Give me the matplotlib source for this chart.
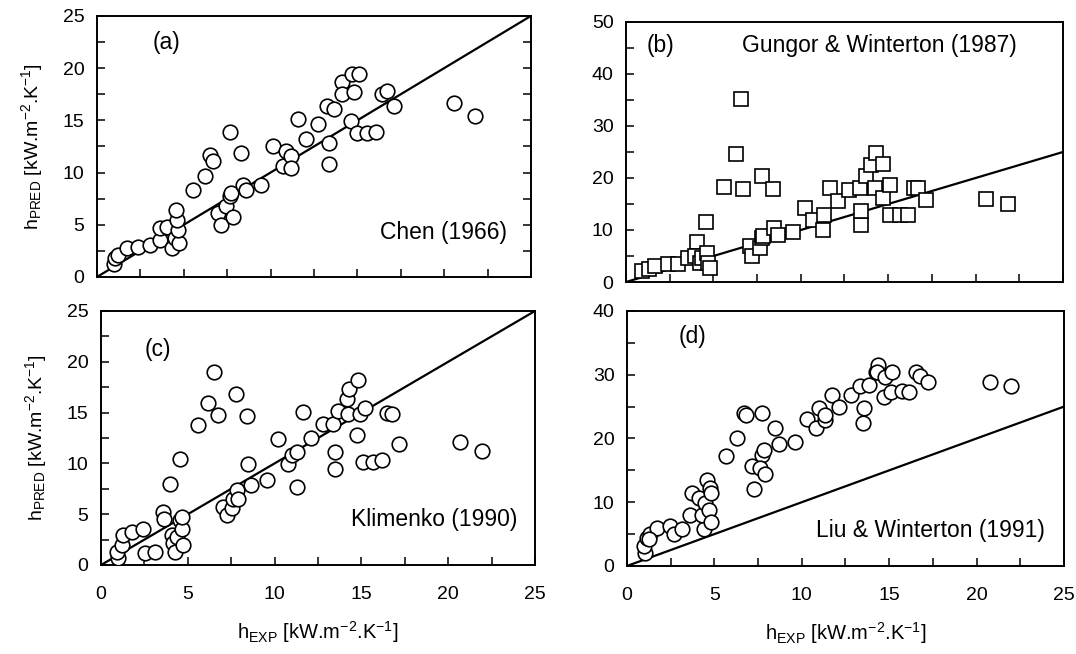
import matplotlib
matplotlib.use("Agg")
import matplotlib.pyplot as plt
from matplotlib.ticker import MultipleLocator, NullFormatter

plt.rcParams['font.family'] = ['Liberation Sans', 'DejaVu Sans']
plt.rcParams['mathtext.default'] = 'regular'

# (a) Chen (1966)
chen_exp = [0.96, 1.05, 1.24, 1.72, 2.39, 3.06, 3.63, 3.63, 4.01, 4.30, 4.49, 4.74, 4.68, 4.59,
            4.55, 5.54, 6.21, 6.50, 6.69, 7.65, 8.31, 6.98, 7.17, 7.45, 7.65, 7.74, 7.84, 8.41,
            8.60, 9.46, 10.13, 10.70, 10.89, 11.18, 11.18, 11.56, 12.04, 12.71, 13.28, 13.38,
            13.38, 13.67, 14.14, 14.14, 14.71, 15.10, 14.81, 14.62, 15.00, 15.58, 16.06, 16.44,
            16.72, 17.11, 20.59, 21.79]
chen_pred = [1.29, 1.77, 2.09, 2.73, 2.89, 3.05, 3.53, 4.66, 4.82, 2.73, 3.70, 3.21, 4.50, 5.46,
             6.43, 8.35, 9.64, 11.73, 11.09, 13.88, 11.89, 6.11, 4.98, 6.75, 7.71, 8.03, 5.78,
             8.84, 8.35, 8.84, 12.53, 10.60, 12.05, 11.57, 10.44, 15.10, 13.17, 14.62, 16.39,
             12.85, 10.83, 16.07, 18.64, 17.51, 19.44, 19.44, 17.67, 14.94, 13.82, 13.82, 13.88,
             17.51, 17.83, 16.39, 16.65, 15.42]

# (b) Gungor & Winterton (1987)
gw_exp = [0.91, 1.29, 1.67, 2.43, 3.00, 3.57, 4.05, 3.95, 4.24, 4.33, 4.62, 4.71, 4.81, 4.58,
          5.61, 6.29, 6.56, 6.71, 7.09, 7.19, 7.66, 7.76, 7.85, 7.76, 8.42, 8.46, 8.71, 9.56,
          10.23, 10.70, 11.27, 11.31, 11.65, 12.13, 12.76, 13.37, 13.46, 13.46, 13.75, 14.03,
          14.28, 14.22, 14.73, 14.70, 15.08, 15.08, 15.65, 16.12, 16.50, 16.69, 17.17, 20.59,
          21.83]
gw_pred = [2.1, 2.43, 3.07, 3.38, 3.38, 4.66, 7.66, 4.98, 3.70, 4.66, 5.62, 3.70, 2.75, 11.56,
           18.2, 24.65, 35.19, 17.88, 6.90, 4.98, 6.58, 8.49, 8.81, 20.31, 17.88, 10.41, 9.13,
           9.58, 14.24, 12.0, 10.09, 12.96, 18.07, 15.52, 17.62, 18.07, 11.05, 13.60, 20.31,
           22.54, 24.78, 18.07, 22.67, 16.16, 18.71, 12.96, 12.96, 12.96, 18.07, 18.07, 15.84,
           15.96, 15.07]

# (c) Klimenko (1990)
kl_exp = [1.0, 0.90, 1.19, 1.29, 1.77, 2.44, 2.53, 3.11, 3.59, 3.63, 3.97, 4.07, 4.17, 4.26,
          4.36, 4.55, 4.55, 4.65, 4.74, 4.65, 5.61, 6.18, 6.51, 6.76, 7.05, 7.24, 7.53, 7.62,
          7.81, 7.91, 7.76, 8.43, 8.49, 8.64, 9.54, 10.21, 10.79, 10.98, 11.31, 11.27, 11.65,
          12.08, 12.77, 13.38, 13.48, 13.48, 13.67, 14.15, 14.31, 14.25, 14.73, 14.82, 14.92,
          15.21, 15.11, 15.69, 16.17, 16.46, 16.74, 17.18, 20.68, 21.93]
kl_pred = [0.65, 1.31, 1.96, 2.94, 3.27, 3.53, 1.14, 1.31, 5.23, 4.51, 8.01, 2.94, 2.12, 1.31,
           2.78, 10.46, 4.41, 3.59, 1.96, 4.74, 13.79, 15.95, 19.02, 14.77, 5.72, 4.90, 5.56,
           6.54, 7.35, 6.54, 16.83, 14.64, 9.97, 7.84, 8.33, 12.42, 9.97, 10.78, 11.11, 7.68,
           15.10, 12.48, 13.89, 13.89, 11.11, 9.41, 15.20, 16.34, 17.32, 14.87, 12.75, 18.20,
           14.87, 15.42, 10.13, 10.13, 10.29, 14.97, 14.87, 11.93, 12.09, 11.18]

# (d) Liu & Winterton (1991)
lw_exp = [1.05, 0.95, 1.15, 1.34, 1.72, 1.24, 2.48, 2.67, 3.15, 3.63, 3.72, 4.10, 4.39, 4.29,
          4.48, 4.68, 4.58, 4.73, 4.81, 4.81, 5.67, 6.30, 6.68, 6.81, 7.16, 7.25, 7.73, 7.63,
          7.73, 7.92, 7.82, 8.49, 8.68, 9.64, 10.31, 10.84, 10.97, 11.35, 11.35, 11.74, 12.12,
          12.82, 13.36, 13.55, 13.49, 13.84, 14.22, 14.37, 14.31, 14.73, 14.79, 15.08, 15.17,
          15.74, 16.13, 16.51, 16.79, 17.23, 20.76, 21.95]
lw_pred = [2.08, 3.13, 4.43, 4.95, 5.99, 4.17, 6.25, 4.95, 5.83, 7.92, 11.46, 10.68, 5.73, 8.07,
           9.90, 8.85, 13.54, 12.24, 11.46, 6.88, 17.19, 20.05, 24.06, 23.70, 15.63, 12.08,
           17.45, 15.36, 24.06, 14.48, 18.23, 21.61, 19.11, 19.38, 23.07, 21.72, 24.74, 22.92,
           23.70, 26.82, 24.90, 26.82, 28.23, 24.74, 22.50, 28.39, 30.47, 31.51, 30.47, 26.46,
           29.69, 27.34, 30.47, 27.45, 27.34, 30.47, 29.79, 28.91, 28.91, 28.23]

fig = plt.figure(figsize=(10.76, 6.54), dpi=100)
ax_a = fig.add_axes([0.0901, 0.5765, 0.4033, 0.3991])
ax_b = fig.add_axes([0.5818, 0.5688, 0.4061, 0.3976])
ax_c = fig.add_axes([0.0939, 0.1361, 0.4033, 0.3884])
ax_d = fig.add_axes([0.5827, 0.1346, 0.4061, 0.3899])

panels = [
    (ax_a, chen_exp, chen_pred, 'o', 25, 2.5, 5, '(a)', (0.16, 0.90), 'Chen (1966)', (0.945, 0.17), 'right'),
    (ax_b, gw_exp, gw_pred, 's', 50, 5, 10, '(b)', (0.08, 0.91), 'Gungor & Winterton (1987)', (0.58, 0.91), 'center'),
    (ax_c, kl_exp, kl_pred, 'o', 25, 2.5, 5, '(c)', (0.13, 0.85), 'Klimenko (1990)', (0.96, 0.18), 'right'),
    (ax_d, lw_exp, lw_pred, 'o', 40, 5, 10, '(d)', (0.15, 0.90), 'Liu & Winterton (1991)', (0.956, 0.14), 'right'),
]

for ax, x, y, mk, ymax, yminor, ymajor, tag, tag_xy, name, name_xy, ha in panels:
    ax.plot([0, 25], [0, 25], color='black', lw=1.6, zorder=2)
    ms = 10.5 if mk == 'o' else 9.5
    ax.plot(x, y, ls='none', marker=mk, ms=ms, mfc='white', mec='black', mew=1.2, zorder=3)
    ax.set_xlim(0, 25)
    ax.set_ylim(0, ymax)
    ax.xaxis.set_major_locator(MultipleLocator(5))
    ax.xaxis.set_minor_locator(MultipleLocator(2.5))
    ax.yaxis.set_major_locator(MultipleLocator(ymajor))
    ax.yaxis.set_minor_locator(MultipleLocator(yminor))
    ax.tick_params(which='both', direction='in', length=6, width=1.1,
                   top=False, right=(ax is ax_a), labelsize=14)
    ax.tick_params(axis='y', which='both', pad=9)
    ax.tick_params(axis='x', which='both', pad=15)
    for s in ax.spines.values():
        s.set_linewidth(1.4)
    ax.text(tag_xy[0], tag_xy[1], tag, transform=ax.transAxes, fontsize=16.5,
            ha='center', va='center')
    ax.text(name_xy[0], name_xy[1], name, transform=ax.transAxes, fontsize=16.5,
            ha=ha, va='center')

for ax in (ax_a, ax_b):
    ax.xaxis.set_major_formatter(NullFormatter())

ylab = r'$h_{PRED}$ [kW.m$^{-2}$.K$^{-1}$]'
xlab = r'$h_{EXP}$ [kW.m$^{-2}$.K$^{-1}$]'
for ax in (ax_a, ax_c):
    ax.set_ylabel(ylab, fontsize=14, labelpad=13)
for ax in (ax_c, ax_d):
    ax.set_xlabel(xlab, fontsize=14.5, labelpad=12)

fig.savefig('out.png', dpi=100)
